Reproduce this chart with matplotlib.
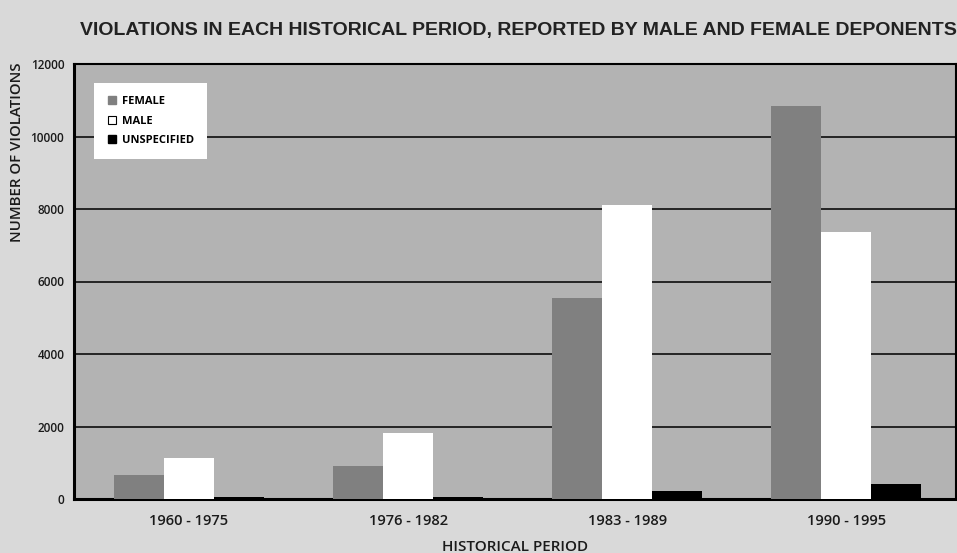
import matplotlib
matplotlib.use("Agg")
import matplotlib.pyplot as plt
from matplotlib.lines import Line2D
import numpy as np

periods = ["1960 - 1975", "1976 - 1982", "1983 - 1989", "1990 - 1995"]
female = [660, 910, 5540, 10830]
male = [1130, 1820, 8110, 7370]
unspecified = [55, 55, 220, 410]
series_names = ["FEMALE", "MALE", "UNSPECIFIED"]
yticks = [0, 2000, 4000, 6000, 8000, 10000, 12000]

plt.rcParams['font.family'] = ['Open Sans', 'DejaVu Sans']

fig = plt.figure(figsize=(9.57, 5.53), dpi=100, facecolor='#d9d9d9')
ax = fig.add_axes([74/957, 54/553, 882/957, 435/553])
ax.set_facecolor('#b3b3b3')

x = np.arange(len(periods))
w = 0.228
ax.bar(x - w, female, w, color='#808080', zorder=3)
ax.bar(x, male, w, color='white', zorder=3)
ax.bar(x + w, unspecified, w, color='black', zorder=3)

ax.set_xlim(-0.525, 3.50)
ax.set_ylim(0, 12000)
ax.set_yticks(yticks)
ax.set_yticklabels([str(v) for v in yticks], fontsize=8.5, color='#1a1a1a', weight='semibold')
ax.set_xticks(x)
ax.set_xticklabels(periods, fontsize=10.5, color='#1a1a1a', weight='semibold')
ax.tick_params(axis='both', length=0)
ax.tick_params(axis='y', pad=7)
ax.tick_params(axis='x', pad=11)
ax.yaxis.grid(True, color='#1a1a1a', linewidth=1.3, zorder=1)
ax.set_axisbelow(True)
for s in ['top', 'right']:
    ax.spines[s].set_linewidth(1.5)
for s in ['left', 'bottom']:
    ax.spines[s].set_linewidth(2.2)

handles = [
    Line2D([], [], linestyle='none', marker='s', markersize=5.5,
           markerfacecolor='#808080', markeredgecolor='#808080'),
    Line2D([], [], linestyle='none', marker='s', markersize=5.5,
           markerfacecolor='white', markeredgecolor='black', markeredgewidth=0.8),
    Line2D([], [], linestyle='none', marker='s', markersize=5.5,
           markerfacecolor='black', markeredgecolor='black'),
]
leg = ax.legend(handles, series_names, loc='upper left',
                bbox_to_anchor=(20/882, 1 - 19/435), borderaxespad=0,
                frameon=True, fancybox=False, framealpha=1,
                edgecolor='white', facecolor='white',
                prop={'size': 8, 'weight': 'bold'},
                handlelength=0.75, handletextpad=0.55, labelspacing=0.75,
                borderpad=1.2)
leg.get_frame().set_linewidth(0)

fig.text(518/957, 1 - 30/553, "VIOLATIONS IN EACH HISTORICAL PERIOD, REPORTED BY MALE AND FEMALE DEPONENTS",
         ha='center', va='center', fontsize=14, color='#222222', weight='bold',
         family=['Liberation Sans', 'DejaVu Sans'])
fig.text(515/957, 1 - 547/553, "HISTORICAL PERIOD", ha='center', va='center',
         fontsize=11, color='#1a1a1a', weight='semibold')
fig.text(17/957, 1 - 62/553, "NUMBER OF VIOLATIONS", ha='center', va='top',
         rotation=90, fontsize=10.8, color='#1a1a1a', weight='semibold')

fig.savefig("out.png", dpi=100, facecolor=fig.get_facecolor())
